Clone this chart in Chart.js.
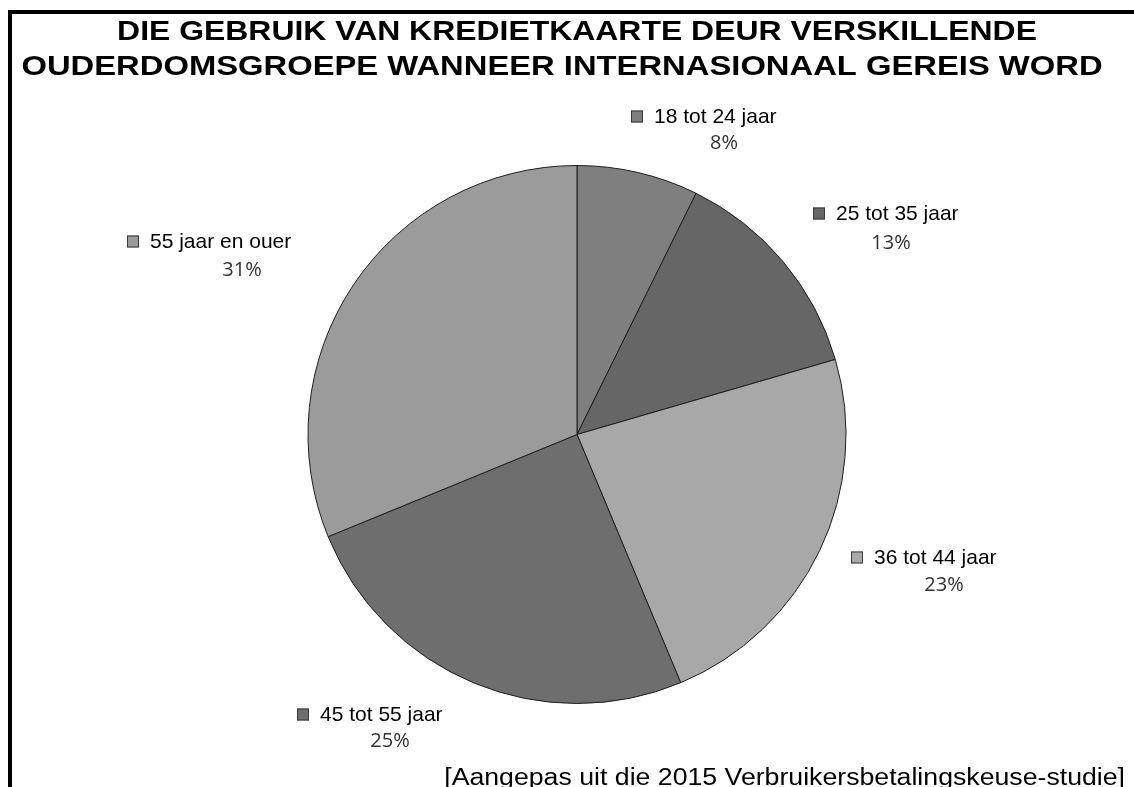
<!DOCTYPE html>
<html>
<head>
<meta charset="utf-8">
<script src="https://cdn.jsdelivr.net/npm/chart.js@4.4.0/dist/chart.umd.min.js"></script>
<style>
  html, body { margin: 0; padding: 0; background: #ffffff; }
  #wrap { width: 1134px; height: 787px; position: relative; }
</style>
</head>
<body>
<div id="wrap"><canvas id="c" width="1134" height="787"></canvas></div>
<script>
// ---- data ----
const titleLines = [
  "DIE GEBRUIK VAN KREDIETKAARTE DEUR VERSKILLENDE",
  "OUDERDOMSGROEPE WANNEER INTERNASIONAAL GEREIS WORD"
];
const categories = ["18 tot 24 jaar", "25 tot 35 jaar", "36 tot 44 jaar", "45 tot 55 jaar", "55 jaar en ouer"];
const sliceValues = [7.3, 13.2, 23.2, 25.1, 31.2];
const percentLabels = ["8%", "13%", "23%", "25%", "31%"];
const sourceText = "[Aangepas uit die 2015 Verbruikersbetalingskeuse-studie]";

// ---- styles / layout ----
const sliceColors = ["#7f7f7f", "#666666", "#a8a8a8", "#6e6e6e", "#9b9b9b"];
// label placement relative to pie centre, in units of the pie radius
// [marker-left dx, line-1 dy, percent-centre dx, percent dy]
const labelLayout = [
  [54, -318, 147, -291],
  [236, -221, 314, -191],
  [274, 123, 367, 151],
  [-280, 280, -187, 307],
  [-450, -193, -335, -164]
].map(a => a.map(v => v / 269));

function stretchedText(ctx, text, x, y, sx, align) {
  ctx.save();
  ctx.translate(x, y);
  ctx.scale(sx, 1);
  ctx.textAlign = align;
  ctx.fillText(text, 0, 0);
  ctx.restore();
}

const labelPlugin = {
  id: 'labels',
  afterDraw(chart) {
    const ctx = chart.ctx;
    ctx.save();
    // frame
    ctx.fillStyle = '#000';
    ctx.fillRect(8, 10, 4, 777);
    ctx.fillRect(8, 10, 1126, 4);

    // title
    ctx.fillStyle = '#000';
    ctx.font = 'bold 28px "Liberation Sans", Arial, sans-serif';
    ctx.textBaseline = 'alphabetic';
    stretchedText(ctx, titleLines[0], 577, 40, 1.14, 'center');
    stretchedText(ctx, titleLines[1], 562, 75, 1.17, 'center');

    // slice labels
    const meta = chart.getDatasetMeta(0);
    const arc0 = meta.data[0];
    const cx = arc0.x, cy = arc0.y, r = arc0.outerRadius;
    categories.forEach((cat, i) => {
      const L = labelLayout[i];
      const mx = cx + L[0] * r, my = cy + L[1] * r;
      ctx.fillStyle = sliceColors[i];
      ctx.fillRect(mx, my - 6, 12, 12);
      ctx.strokeStyle = '#3a3a3a';
      ctx.lineWidth = 1;
      ctx.strokeRect(mx + 0.5, my - 5.5, 11, 11);
      ctx.fillStyle = '#000';
      ctx.font = '21px "Liberation Sans", Arial, sans-serif';
      ctx.textAlign = 'left';
      ctx.textBaseline = 'middle';
      ctx.fillText(cat, mx + 23, my + 1);
      ctx.fillStyle = '#333';
      ctx.font = '20px "Open Sans", "Noto Sans", sans-serif';
      ctx.textAlign = 'center';
      ctx.fillText(percentLabels[i], cx + L[2] * r, cy + L[3] * r);
    });

    // source
    ctx.fillStyle = '#000';
    ctx.font = '23px "Liberation Sans", Arial, sans-serif';
    ctx.textBaseline = 'alphabetic';
    stretchedText(ctx, sourceText, 1125, 785, 1.16, 'right');
    ctx.restore();
  }
};

new Chart(document.getElementById('c'), {
  type: 'pie',
  data: {
    labels: categories,
    datasets: [{
      data: sliceValues,
      backgroundColor: sliceColors,
      borderColor: '#1e1e1e',
      borderWidth: 1
    }]
  },
  options: {
    responsive: false,
    animation: false,
    layout: { padding: { top: 165, bottom: 83, left: 200, right: 180 } },
    plugins: {
      legend: { display: false },
      tooltip: { enabled: false },
      title: { display: false }
    }
  },
  plugins: [labelPlugin]
});
</script>
</body>
</html>
